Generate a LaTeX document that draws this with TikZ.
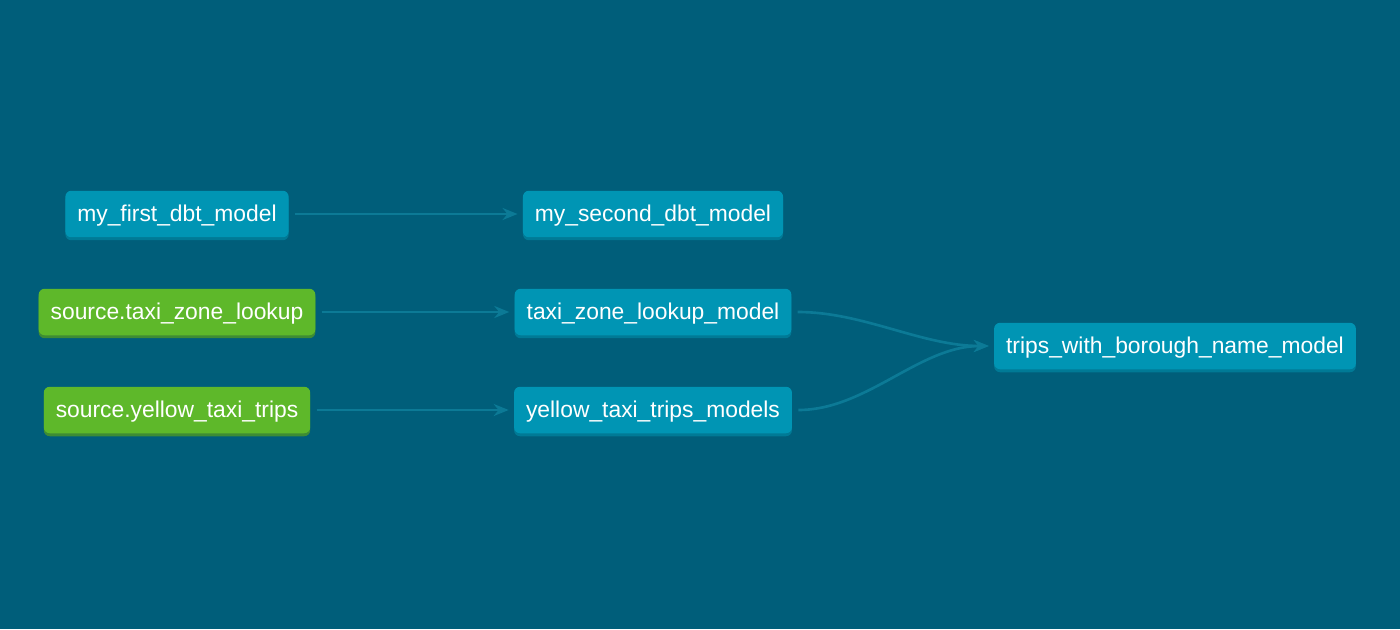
\documentclass[tikz,border=0pt]{standalone}
\usepackage{fontspec}
\setmainfont{Liberation Sans}
\usetikzlibrary{positioning, calc, arrows.meta, shadows}

\definecolor{bgBlue}{RGB}{0,94,122}
\definecolor{modelFill}{RGB}{0,149,180}
\definecolor{modelShade}{RGB}{0,122,150}
\definecolor{sourceFill}{RGB}{94,184,42}
\definecolor{sourceShade}{RGB}{62,140,52}
\definecolor{edgeBlue}{RGB}{12,122,150}

\begin{document}
\begin{tikzpicture}[
  x=0.02cm, y=-0.02cm,
  modelNode/.style  ={rectangle, rounded corners=0.12cm, fill=modelFill, text=white, inner xsep=0.24cm, minimum height=0.93cm, text height=0.9em, text depth=0em, font=\fontsize{13}{15}\selectfont, general shadow={fill=modelShade, rounded corners=0.12cm, shadow yshift=-0.06cm}},
  sourceNode/.style ={rectangle, rounded corners=0.12cm, fill=sourceFill, text=white, inner xsep=0.24cm, minimum height=0.93cm, text height=0.9em, text depth=0em, font=\fontsize{13}{15}\selectfont, general shadow={fill=sourceShade, rounded corners=0.12cm, shadow yshift=-0.06cm}},
  arrow/.style      ={-{Stealth[length=0.3cm, width=0.24cm]}, edgeBlue, line width=1.5pt, shorten <=0.12cm, shorten >=0.1cm}
]

% background and page size
\fill[bgBlue] (0,0) rectangle (1400,629);
\useasboundingbox (0,0) rectangle (1400,629);

% ================== LEFT COLUMN ==================
\node[modelNode]  (FIRST)    at (177,214) {my\_first\_dbt\_model};
\node[sourceNode] (SRCZONE)  at (177,312) {source.taxi\_zone\_lookup};
\node[sourceNode] (SRCTRIPS) at (177,410) {source.yellow\_taxi\_trips};

% ================== MIDDLE COLUMN ==================
\node[modelNode] (SECOND)    at (653,214) {my\_second\_dbt\_model};
\node[modelNode] (ZONEMODEL) at (653,312) {taxi\_zone\_lookup\_model};
\node[modelNode] (TRIPMODEL) at (653,410) {yellow\_taxi\_trips\_models};

% ================== RIGHT COLUMN ==================
\node[modelNode] (BOROUGH) at (1175,346) {trips\_with\_borough\_name\_model};

% straight edges
\draw[arrow] (FIRST.east) -- (SECOND.west);
\draw[arrow] (SRCZONE.east) -- (ZONEMODEL.west);
\draw[arrow] (SRCTRIPS.east) -- (TRIPMODEL.west);

% fan-in to the joined model
\draw[arrow] (ZONEMODEL.east) to[out=0, in=180, looseness=0.9] (BOROUGH.west);
\draw[arrow] (TRIPMODEL.east) to[out=0, in=180, looseness=0.9] (BOROUGH.west);

\end{tikzpicture}
\end{document}
